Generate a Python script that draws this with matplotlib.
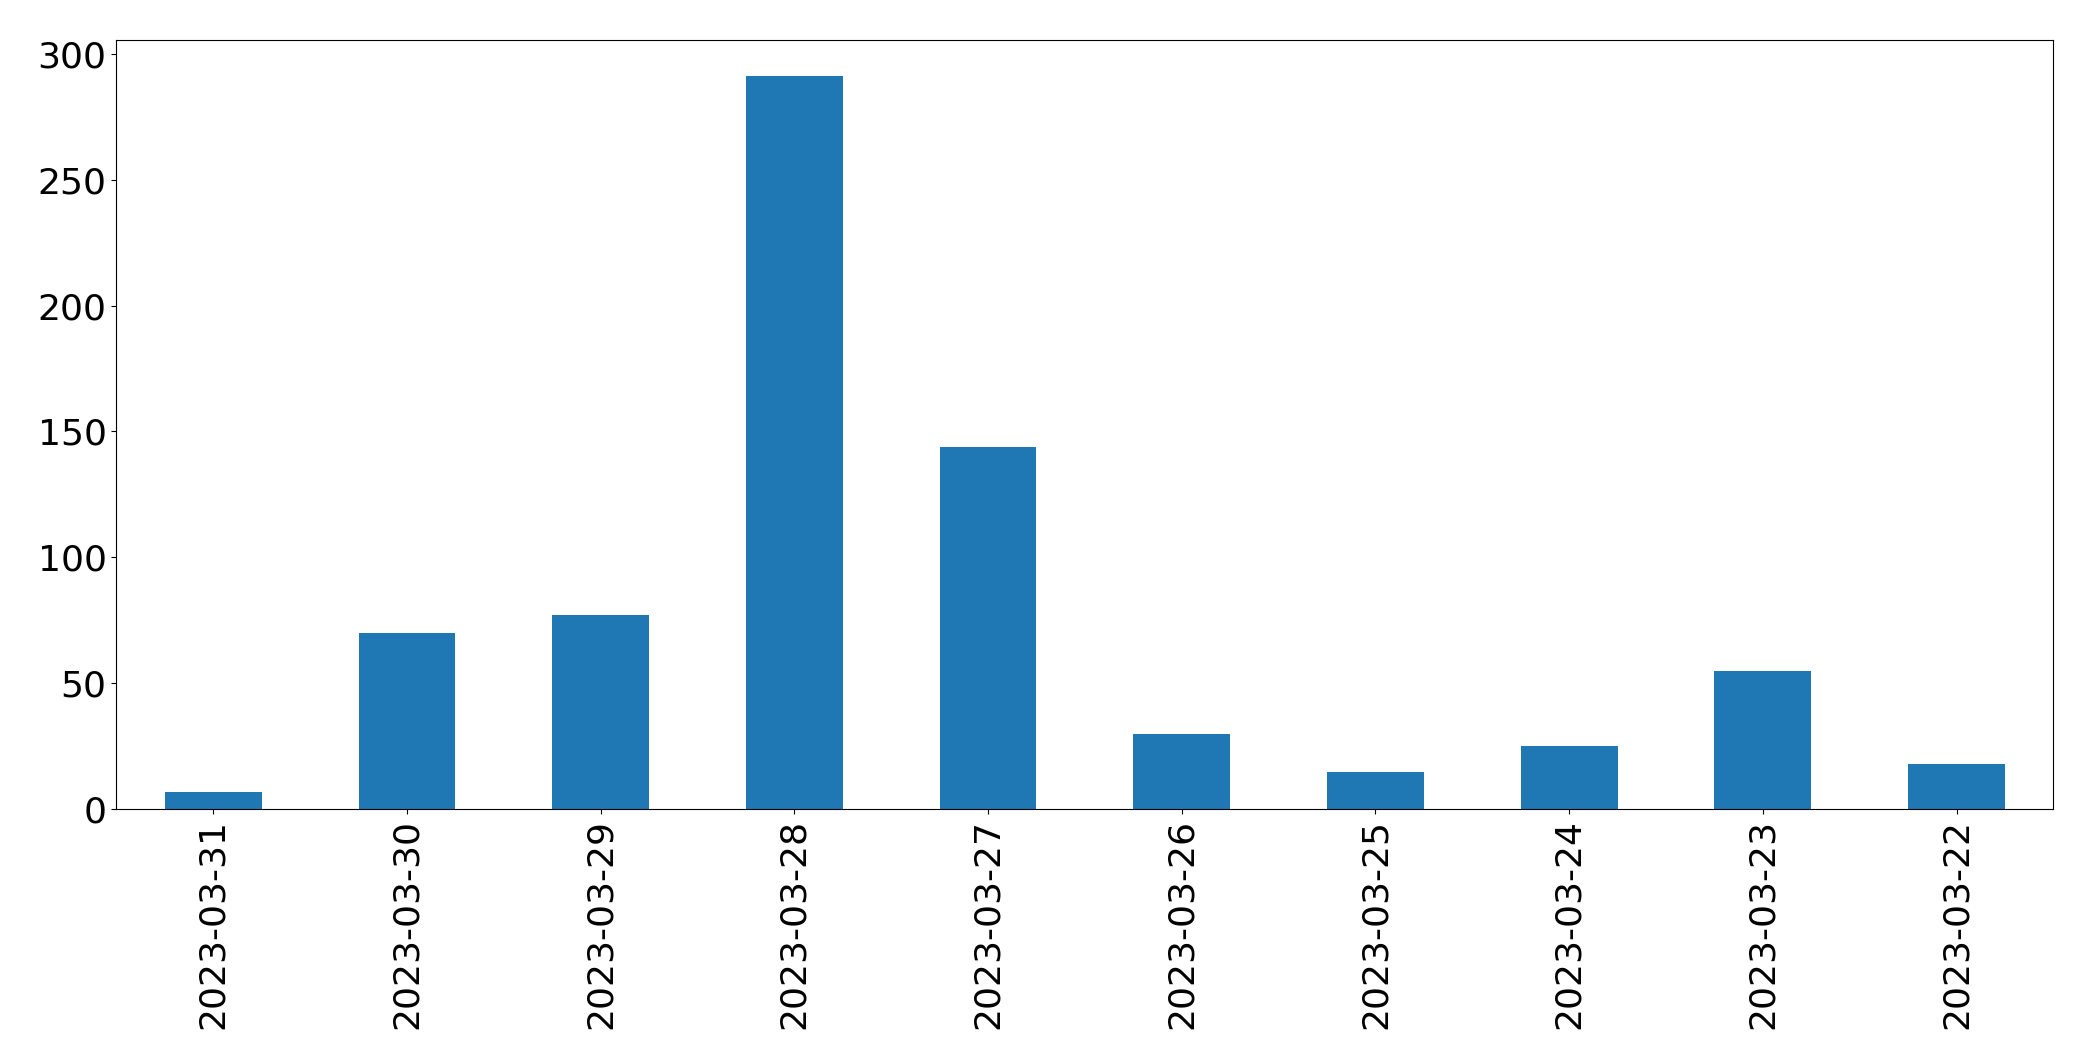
import matplotlib
matplotlib.use("Agg")
import matplotlib.pyplot as plt
import pandas as pd

# daily counts, newest first (as in the original plot)
dates = ['2023-03-31', '2023-03-30', '2023-03-29', '2023-03-28', '2023-03-27',
         '2023-03-26', '2023-03-25', '2023-03-24', '2023-03-23', '2023-03-22']
counts = [7, 70, 77, 291, 144, 30, 15, 25, 55, 18]

s = pd.Series(counts, index=dates)

fig = plt.figure(figsize=(20.93, 10.61), dpi=100)
ax = fig.add_axes([0.0556, 0.2372, 0.9255, 0.7254])
s.plot(kind='bar', ax=ax, fontsize=26)

plt.savefig('out.png', dpi=100)
